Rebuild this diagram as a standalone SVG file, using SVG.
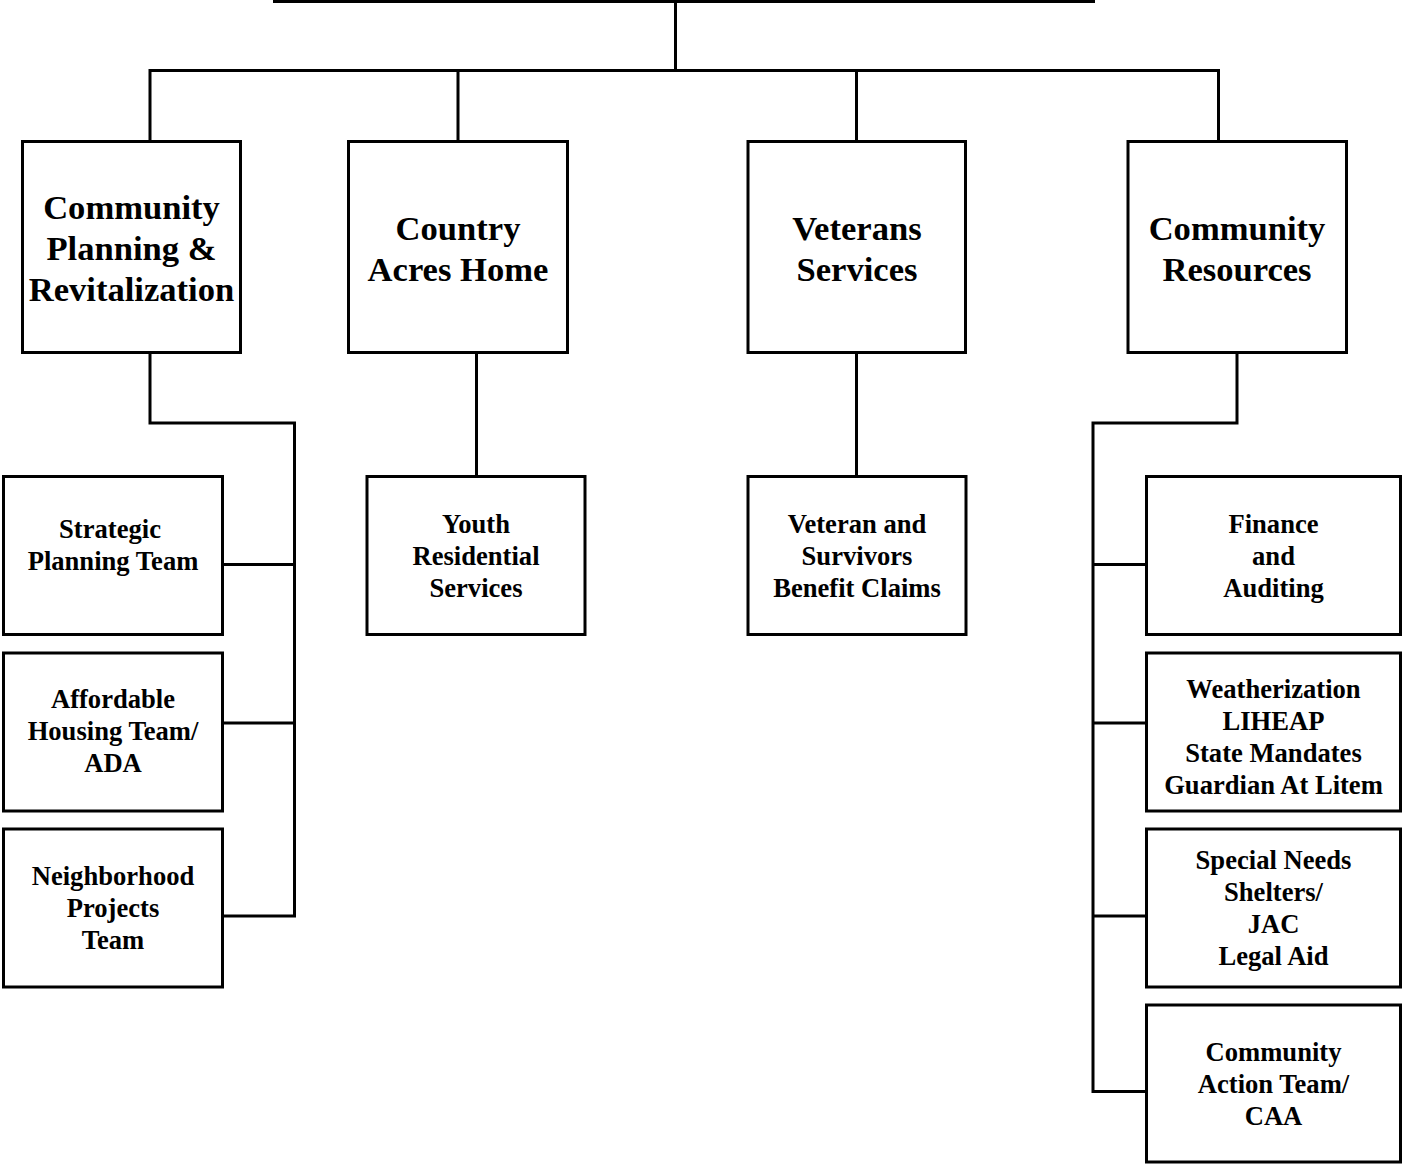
<svg xmlns="http://www.w3.org/2000/svg" width="1402" height="1164" viewBox="0 0 1402 1164">
<style>
.box{fill:#fff;stroke:#000;stroke-width:3}
.ln{fill:none;stroke:#000;stroke-width:3;stroke-linecap:square}
.big{font-family:"Liberation Serif","Times New Roman",serif;font-weight:bold;font-size:34.6px;text-anchor:middle;fill:#000}
.sm{font-family:"Liberation Serif","Times New Roman",serif;font-weight:bold;font-size:26.6px;text-anchor:middle;fill:#000}
</style>
<rect width="1402" height="1164" fill="#fff"/>
<g id="connectors">
<line class="ln" x1="275" y1="1" x2="1093" y2="1" style="stroke-width:4"/>
<path class="ln" d="M675.5 1V70.5M150 141V70.5H1218.5V141M458 70.5V141M856.5 70.5V141"/>
<path class="ln" d="M150 353V423H294.5V916M223 564.5H294.5M223 723H294.5M223 916H294.5"/>
<path class="ln" d="M476.5 353V476"/>
<path class="ln" d="M856.5 353V476"/>
<path class="ln" d="M1237 353V423H1093V1091.5M1093 564.5H1146M1093 723H1146M1093 916H1146M1093 1091.5H1146"/>
</g>
<g id="n-cpr"><rect class="box" x="22.5" y="141.5" width="218" height="211"/>
<text class="big" x="131.5" y="219">Community</text><text class="big" x="131.5" y="260">Planning &amp;</text><text class="big" x="131.5" y="301">Revitalization</text></g>
<g id="n-cah"><rect class="box" x="348.5" y="141.5" width="219" height="211"/>
<text class="big" x="458" y="240">Country</text><text class="big" x="458" y="281">Acres Home</text></g>
<g id="n-vs"><rect class="box" x="748" y="141.5" width="217.5" height="211"/>
<text class="big" x="857" y="240">Veterans</text><text class="big" x="857" y="281">Services</text></g>
<g id="n-cr"><rect class="box" x="1128" y="141.5" width="218.5" height="211"/>
<text class="big" x="1237" y="240">Community</text><text class="big" x="1237" y="281">Resources</text></g>
<g id="n-spt"><rect class="box" x="3.5" y="476.5" width="219" height="158"/>
<text class="sm" x="110" y="538">Strategic</text><text class="sm" x="113" y="570">Planning Team</text></g>
<g id="n-aht"><rect class="box" x="3.5" y="653" width="219" height="158"/>
<text class="sm" x="113" y="708">Affordable</text><text class="sm" x="113" y="740">Housing Team/</text><text class="sm" x="113" y="772">ADA</text></g>
<g id="n-npt"><rect class="box" x="3.5" y="829" width="219" height="158"/>
<text class="sm" x="113" y="885">Neighborhood</text><text class="sm" x="113" y="917">Projects</text><text class="sm" x="113" y="949">Team</text></g>
<g id="n-yrs"><rect class="box" x="367" y="476.5" width="218" height="158"/>
<text class="sm" x="476" y="533">Youth</text><text class="sm" x="476" y="565">Residential</text><text class="sm" x="476" y="597">Services</text></g>
<g id="n-vsbc"><rect class="box" x="748" y="476.5" width="218" height="158"/>
<text class="sm" x="857" y="533">Veteran and</text><text class="sm" x="857" y="565">Survivors</text><text class="sm" x="857" y="597">Benefit Claims</text></g>
<g id="n-fa"><rect class="box" x="1146.5" y="476.5" width="254" height="158"/>
<text class="sm" x="1273.5" y="533">Finance</text><text class="sm" x="1273.5" y="565">and</text><text class="sm" x="1273.5" y="597">Auditing</text></g>
<g id="n-wl"><rect class="box" x="1146.5" y="653" width="254" height="158"/>
<text class="sm" x="1273.5" y="698">Weatherization</text><text class="sm" x="1273.5" y="730">LIHEAP</text><text class="sm" x="1273.5" y="762">State Mandates</text><text class="sm" x="1273.5" y="794">Guardian At Litem</text></g>
<g id="n-sns"><rect class="box" x="1146.5" y="829" width="254" height="158"/>
<text class="sm" x="1273.5" y="869">Special Needs</text><text class="sm" x="1273.5" y="901">Shelters/</text><text class="sm" x="1273.5" y="933">JAC</text><text class="sm" x="1273.5" y="965">Legal Aid</text></g>
<g id="n-cat"><rect class="box" x="1146.5" y="1005" width="254" height="157"/>
<text class="sm" x="1273.5" y="1061">Community</text><text class="sm" x="1273.5" y="1093">Action Team/</text><text class="sm" x="1273.5" y="1125">CAA</text></g>
</svg>
